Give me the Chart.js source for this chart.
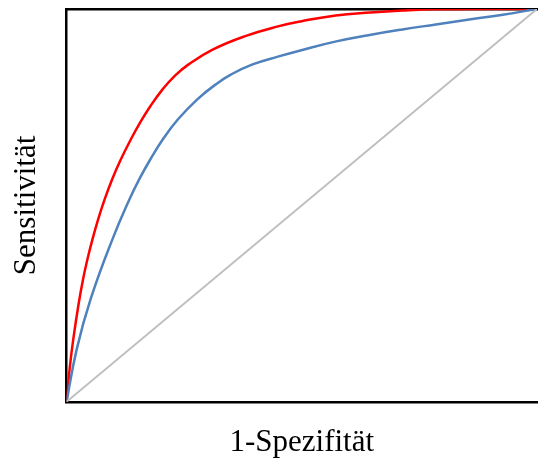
<!DOCTYPE html>
<html>
<head>
<meta charset="utf-8">
<script src="https://cdn.jsdelivr.net/npm/chart.js@4/dist/chart.umd.min.js"></script>
<style>
html,body{margin:0;padding:0;background:#fff;overflow:hidden;}
canvas{display:block;}
</style>
</head>
<body>
<canvas id="c" width="538" height="466"></canvas>
<script>
const xTitle = "1-Spezifität";
const yTitle = "Sensitivität";

const redX = [0, 0.0074, 0.0145, 0.0251, 0.0353, 0.0446, 0.0553, 0.0674, 0.0812, 0.0971, 0.1156, 0.1369, 0.1564, 0.1785, 0.2042, 0.2291, 0.2595, 0.3116, 0.3798, 0.4516, 0.4997, 0.5722, 0.6451, 0.7146, 0.7875, 1];
const redY = [0, 0.0922, 0.1601, 0.2447, 0.3126, 0.3634, 0.4142, 0.4651, 0.5159, 0.5667, 0.6175, 0.6684, 0.7108, 0.7530, 0.7954, 0.8285, 0.8590, 0.8971, 0.9309, 0.9563, 0.9690, 0.9835, 0.9911, 0.9962, 0.9992, 1];

const blueX = [0, 0.0219, 0.0514, 0.0978, 0.1339, 0.1547, 0.1783, 0.2049, 0.2370, 0.2780, 0.3173, 0.3501, 0.3955, 0.4512, 0.5050, 0.5758, 0.6414, 0.7137, 0.7849, 0.8561, 0.9241, 1];
const blueY = [0, 0.1347, 0.2618, 0.4142, 0.5159, 0.5667, 0.6175, 0.6684, 0.7192, 0.7700, 0.8081, 0.8335, 0.8590, 0.8793, 0.8971, 0.9182, 0.9334, 0.9479, 0.9606, 0.9733, 0.9848, 1];

const diagX = [0, 1];
const diagY = [0, 1];

const pts = (xs, ys) => xs.map((x, i) => ({x: x, y: ys[i]}));

const titleFont = {family: "'Liberation Serif', 'Times New Roman', serif", size: 31};

new Chart(document.getElementById('c'), {
  type: 'scatter',
  data: {
    datasets: [
      {label: 'diag', data: pts(diagX, diagY), showLine: true, borderColor: '#bfbfbf', borderWidth: 2, pointRadius: 0, tension: 0},
      {label: 'blue', data: pts(blueX, blueY), showLine: true, borderColor: '#4f81bd', borderWidth: 2.5, pointRadius: 0, tension: 0.45},
      {label: 'red', data: pts(redX, redY), showLine: true, borderColor: '#ff0000', borderWidth: 2.5, pointRadius: 0, tension: 0.45}
    ]
  },
  options: {
    responsive: false,
    animation: false,
    events: [],
    layout: {padding: {left: 0, right: 1, top: 9, bottom: 1}},
    plugins: {legend: {display: false}, tooltip: {enabled: false}},
    scales: {
      x: {
        type: 'linear', position: 'bottom', min: 0, max: 1,
        grid: {display: false, drawTicks: false},
        ticks: {display: false},
        border: {display: true, color: '#000', width: 2.5},
        title: {display: true, text: xTitle, color: '#000', font: titleFont, padding: {top: 22, bottom: 4}}
      },
      xTop: {
        type: 'linear', position: 'top', min: 0, max: 1,
        grid: {display: false, drawTicks: false},
        ticks: {display: false},
        border: {display: true, color: '#000', width: 2.5}
      },
      y: {
        type: 'linear', position: 'left', min: 0, max: 1,
        grid: {display: false, drawTicks: false},
        ticks: {display: false},
        border: {display: true, color: '#000', width: 2.5},
        title: {display: true, text: yTitle, color: '#000', font: titleFont, padding: {top: 8.4, bottom: 20.9}}
      }
    }
  }
});
</script>
</body>
</html>
